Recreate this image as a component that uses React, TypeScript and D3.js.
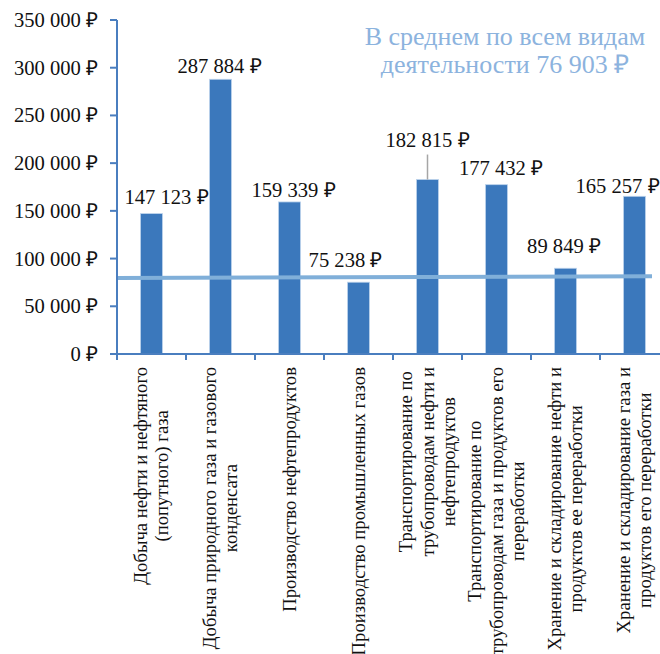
import React from "react";
import * as d3 from "d3";

const categories: string[][] = [
  ["Добыча нефти и нефтяного", "(попутного) газа"],
  ["Добыча природного газа и газового", "конденсата"],
  ["Производство нефтепродуктов"],
  ["Производство промышленных газов"],
  ["Транспортирование по", "трубопроводам нефти и", "нефтепродуктов"],
  ["Транспортирование по", "трубопроводам газа и продуктов его", "переработки"],
  ["Хранение и складирование нефти и", "продуктов ее переработки"],
  ["Хранение и складирование газа и", "продуктов его переработки"],
  [],
];
const values: number[] = [147123, 287884, 159339, 75238, 182815, 177432, 89849, 165257];
const yTicks: number[] = [0, 50000, 100000, 150000, 200000, 250000, 300000, 350000];
const averageLine: number[] = [79700, 81500];
const titleLines: string[] = ["В среднем по всем видам", "деятельности 76 903 ₽"];
// label nudges (px) relative to bar centre / bar top
const labelNudge: [number, number][] = [
  [15, -10], [-1, -6], [4, -5], [-13, -15], [0, -33], [4.5, -10], [-1.5, -15], [-17, -3],
];

const W = 660;
const H = 654;
const FONT = "'Liberation Serif'";

function fmt(v: number): string {
  const s = Math.round(v).toString().replace(/\B(?=(\d{3})+(?!\d))/g, " ");
  return s + " ₽";
}

let ctx: CanvasRenderingContext2D | null = null;
function measure(s: string, size: number): number {
  if (!ctx && typeof document !== "undefined") {
    ctx = document.createElement("canvas").getContext("2d");
  }
  if (!ctx) return s.length * size * 0.45;
  ctx.font = `${size}px 'Liberation Serif'`;
  return ctx.measureText(s).width;
}

export default function App() {
  const x0 = 117;
  const bandW = 69;
  const x = d3
    .scaleBand<number>()
    .domain(d3.range(categories.length))
    .range([x0, x0 + bandW * categories.length])
    .paddingInner(0)
    .paddingOuter(0);
  const y = d3.scaleLinear().domain([0, 350000]).range([354, 20]);

  const axisColor = "#4a7ebf";
  const barColor = "#3b78bc";

  const fs = 18.7;
  const lh = 21.5;
  const valFs = 20.6;

  return (
    <svg
      width={W}
      height={H}
      style={{ position: "absolute", left: 0, top: 0, fontFamily: FONT }}
    >
      <rect x={0} y={0} width={W} height={H} fill="#fff" />
      {/* bars */}
      {values.map((v, i) => (
        <rect
          key={"b" + i}
          x={x(i)! + x.bandwidth() / 2 - 11}
          width={22}
          y={y(v)}
          height={y(0) - y(v)}
          fill={barColor}
          stroke="#bcd3ec"
          strokeWidth={0.8}
        />
      ))}

      {/* average line */}
      <line
        x1={x0}
        x2={652}
        y1={y(averageLine[0])}
        y2={y(averageLine[1])}
        stroke="#80afd9"
        strokeWidth={4}
      />

      {/* y axis */}
      <line x1={x0} x2={x0} y1={y(350000)} y2={360} stroke={axisColor} strokeWidth={2} />
      {yTicks.map((t) => (
        <g key={"t" + t}>
          <line x1={110} x2={x0} y1={y(t)} y2={y(t)} stroke={axisColor} strokeWidth={2} />
          <text
            x={98}
            y={y(t) + 7}
            textAnchor="end"
            fontSize={valFs}
            fill="#111"
            style={{ fontFamily: FONT }}
          >
            {fmt(t)}
          </text>
        </g>
      ))}

      {/* x axis */}
      <line
        x1={110}
        x2={x0 + bandW * categories.length}
        y1={y(0)}
        y2={y(0)}
        stroke={axisColor}
        strokeWidth={2}
      />
      {categories.map((_, i) => {
        const tx = x(i)! + x.bandwidth();
        return (
          <line key={"xt" + i} x1={tx} x2={tx} y1={y(0)} y2={y(0) + 6} stroke={axisColor} strokeWidth={2} />
        );
      })}

      {/* category labels */}
      {categories.map((lines, i) => {
        const cx = x(i)! + x.bandwidth() / 2;
        const maxW = d3.max(lines, (l) => measure(l, fs)) ?? 0;
        return (
          <g key={"c" + i} transform={`translate(${cx},367) rotate(-90)`}>
            {lines.map((ln, j) => (
              <text
                key={j}
                x={-maxW / 2}
                y={(j - (lines.length - 1) / 2) * lh + fs * 0.33}
                textAnchor="middle"
                fontSize={fs}
                fill="#111"
                style={{ fontFamily: FONT }}
              >
                {ln}
              </text>
            ))}
          </g>
        );
      })}

      {/* data labels */}
      {values.map((v, i) => {
        const cx = x(i)! + x.bandwidth() / 2;
        const [dx, dy] = labelNudge[i];
        return (
          <g key={"l" + i}>
            {i === 4 && (
              <line x1={cx} x2={cx} y1={y(v) + dy + 8} y2={y(v)} stroke="#a6a6a6" strokeWidth={1.5} />
            )}
            <text
              x={cx + dx}
              y={y(v) + dy}
              textAnchor="middle"
              fontSize={valFs}
              fill="#111"
              style={{ fontFamily: FONT }}
            >
              {fmt(v)}
            </text>
          </g>
        );
      })}

      {/* title */}
      {titleLines.map((t, j) => (
        <text
          key={"h" + j}
          x={505}
          y={45 + j * 28}
          textAnchor="middle"
          fill="#8cb3de"
          fontSize={26}
          style={{ fontFamily: FONT }}
        >
          {t}
        </text>
      ))}
    </svg>
  );
}
